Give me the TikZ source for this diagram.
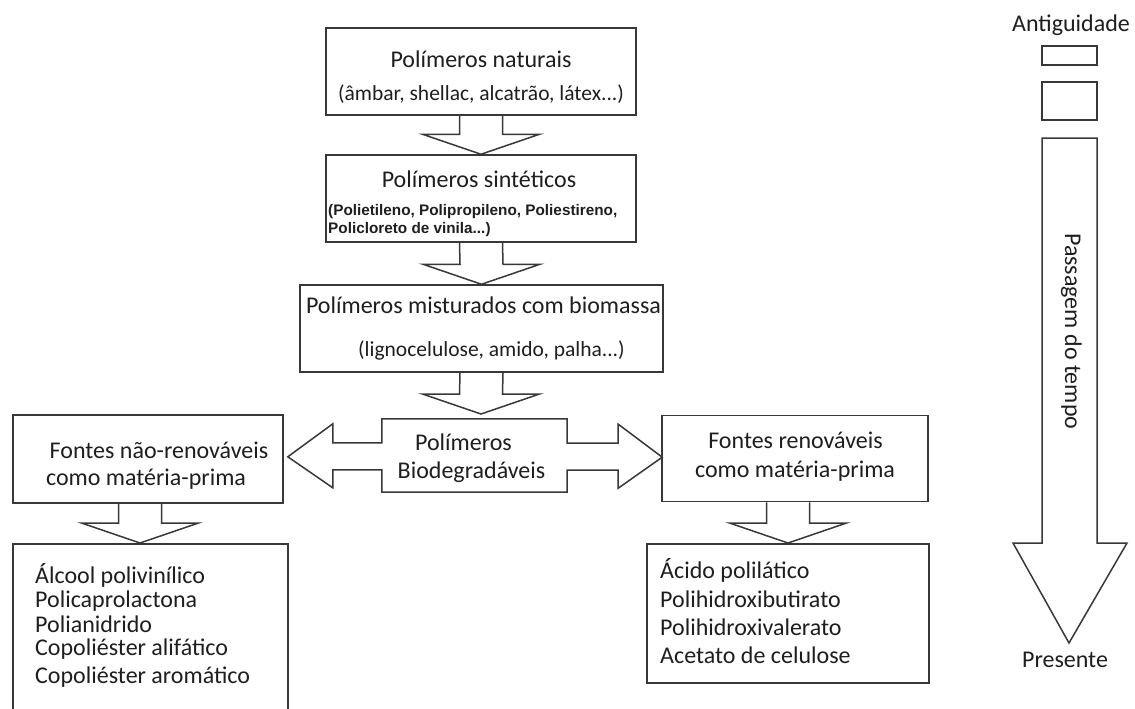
\documentclass[tikz,border=0pt]{standalone}
\usepackage{fontspec}
\setmainfont{Carlito}
\newfontfamily\boldsans{Liberation Sans}
\usetikzlibrary{calc}

\definecolor{linegray}{HTML}{383838}
\definecolor{textgray}{HTML}{1E1E1E}

\tikzset{
	box/.style={draw=linegray, line width=1.5pt, inner sep=0pt},
	blk/.style={draw=linegray, line width=1.5pt, line join=miter},
	txt/.style={inner sep=0pt, text=textgray, font=\fontsize{24}{28}\selectfont, anchor=base},
	subtxt/.style={txt, font=\fontsize{21.5}{25}\selectfont},
	boldtxt/.style={txt, font=\boldsans\bfseries\fontsize{15.3}{18}\selectfont, anchor=base west},
	listtxt/.style={txt, anchor=base west},
}

% block arrow pointing down: #1 = shaft start, #2 = tip
\newcommand{\blockdown}[2]{%
	\draw[blk] ($(#1)+(-21.5,0)$) -- ($(#2)+(-21.5,-20)$) -- ($(#2)+(-58.5,-20)$) -- (#2)
		-- ($(#2)+(58.5,-20)$) -- ($(#2)+(21.5,-20)$) -- ($(#1)+(21.5,0)$);
}

\begin{document}
\begin{tikzpicture}[x=1pt, y=-1pt]
	\useasboundingbox (0,0) rectangle (1135,709);

	% boxes
	\node[box, minimum width=310, minimum height=87] (nat) at (481,71.5) {};
	\node[box, minimum width=310, minimum height=87] (syn) at (481,198.5) {};
	\node[box, minimum width=363, minimum height=87] (mix) at (481.5,328.5) {};
	\node[box, minimum width=270, minimum height=88] (nren) at (148,459) {};
	\node[box, minimum width=266, minimum height=86] (ren) at (795,458.5) {};
	\node[box, minimum width=275, minimum height=180, anchor=north] (lstA) at (150.5,543) {};
	\node[box, minimum width=282, minimum height=139, anchor=north] (lstB) at (788,543) {};
	\node[minimum width=185, minimum height=73] (bio) at (474.5,455.5) {};

	% arrows between boxes
	\coordinate (tmix) at (481,414);
	\coordinate (tA) at (140,543);
	\coordinate (tB) at (788,543);
	\blockdown{nat.south}{syn.north}
	\blockdown{syn.south}{mix.north}
	\blockdown{mix.south}{tmix}
	\blockdown{nren.south -| tA}{tA}
	\blockdown{ren.south -| tB}{tB}

	% double arrow round the middle
	\draw[blk] (bio.north west) -- ++(0,24) -- ++(-49,0) -- ++(0,-19) -- ++(-45,33) -- ++(45,31)
		-- ++(0,-18) -- ++(49,0) -- (bio.south west) -- (bio.south east) -- ++(0,-22) -- ++(51,0)
		-- ++(0,18) -- ++(44,-31) -- ++(-44,-33) -- ++(0,19) -- ++(-51,0) -- (bio.north east) -- cycle;

	% texts
	\node[txt] at (481,67) {Polímeros naturais};
	\node[subtxt] at (481,100) {(âmbar, shellac, alcatrão, látex...)};
	\node[txt] at (479,187) {Polímeros sintéticos};
	\node[boldtxt] at (328,215) {(Polietileno, Polipropileno, Poliestireno,};
	\node[boldtxt] at (328,233) {Policloreto de vinila...)};
	\node[txt] at (483.5,313) {Polímeros misturados com biomassa};
	\node[subtxt] at (491.5,356) {(lignocelulose, amido, palha...)};
	\node[txt] at (463.5,450) {Polímeros};
	\node[txt] at (471.5,478) {Biodegradáveis};
	\node[txt] at (159,458) {Fontes não-renováveis};
	\node[txt] at (146,485) {como matéria-prima};
	\node[txt] at (795.5,448) {Fontes renováveis};
	\node[txt] at (795,477) {como matéria-prima};

	\foreach \t/\y in {Álcool polivinílico/583, Policaprolactona/607, Polianidrido/632,
		Copoliéster alifático/655, Copoliéster aromático/683}
		\node[listtxt] at (35,\y) {\t};
	\foreach \t/\y in {Ácido polilático/578, Polihidroxibutirato/607,
		Polihidroxivalerato/635, Acetato de celulose/663}
		\node[listtxt] at (660,\y) {\t};

	% time line
	\node[txt] (old) at (1071,32) {Antiguidade};
	\draw[blk] (1042,46) rectangle (1097,65);
	\draw[blk] (1042,82) rectangle (1097,120);
	\draw[blk] (1042,138) -- (1097,138) -- (1097,543) -- (1127,543) -- (1069,643) -- (1013,543)
		-- (1042,543) -- cycle;
	\node[txt, rotate=-90, anchor=base west] (pass) at (1065,233) {Passagem do tempo};
	\node[txt] (now) at (1065,667) {Presente};
\end{tikzpicture}
\end{document}
